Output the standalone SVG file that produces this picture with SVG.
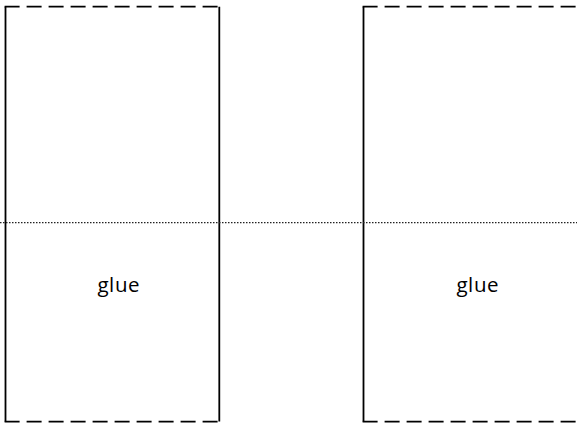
<svg xmlns="http://www.w3.org/2000/svg" width="577" height="424" viewBox="0 0 577 424">
<style>
.solid{fill:none;stroke:#000;stroke-width:1.8}
.dash{fill:none;stroke:#000;stroke-width:1.8;stroke-dasharray:15 7}
.lbl{font-family:"Open Sans","Liberation Sans",sans-serif;font-size:20.5px;letter-spacing:0.6px;fill:#000;text-anchor:middle}
.fold{fill:none;stroke:#222;stroke-width:1.2;stroke-dasharray:1.5 1.5}
</style>
<rect width="577" height="424" fill="#fff"/>
<g id="panel-left">
<path class="solid" d="M5.5 6.7V421.6M219.3 6.7V421.6"/>
<path class="dash" d="M4.6 6.7H220.2M4.6 421.6H220.2"/>
<text class="lbl" x="118.8" y="292">glue</text>
</g>
<g id="panel-right">
<path class="solid" d="M363.5 6.7V421.6"/>
<path class="dash" d="M362.6 6.7H578M362.6 421.6H578"/>
<text class="lbl" x="477.8" y="292">glue</text>
</g>
<g id="connectors">
<path class="fold" d="M0 222.6H577"/>
</g>
</svg>
